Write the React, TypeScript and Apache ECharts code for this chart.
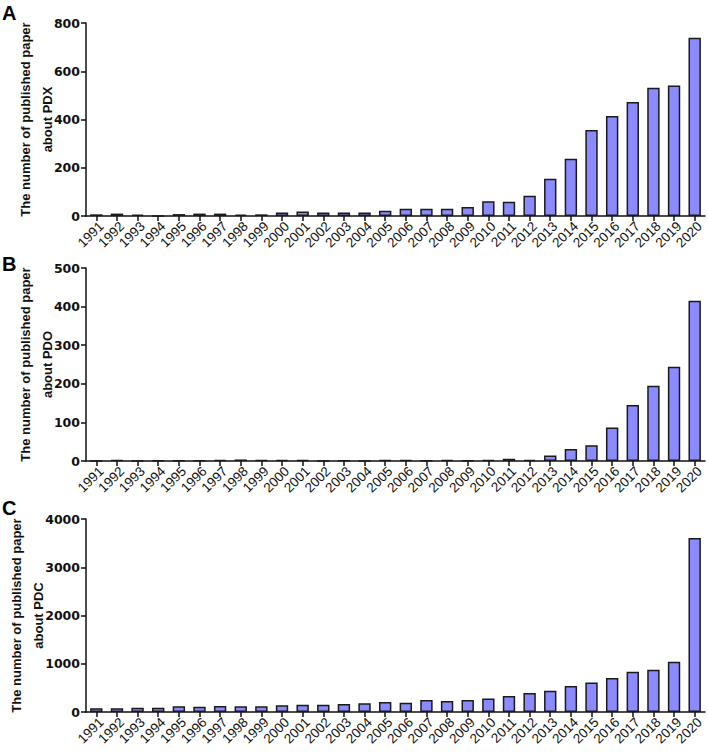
import React, { useEffect, useRef } from "react";
import * as echarts from "echarts";

const years = [
  "1991", "1992", "1993", "1994", "1995", "1996", "1997", "1998", "1999", "2000",
  "2001", "2002", "2003", "2004", "2005", "2006", "2007", "2008", "2009", "2010",
  "2011", "2012", "2013", "2014", "2015", "2016", "2017", "2018", "2019", "2020",
];

const pdxCounts = [7, 10, 6, 0, 8, 10, 10, 6, 7, 15, 19, 15, 15, 15, 22, 30, 30, 30, 37, 61, 59, 84, 154, 237, 356, 415, 473, 532, 541, 739];
const pdoCounts = [0, 2, 0, 1, 1, 1, 3, 4, 2, 3, 2, 0, 1, 0, 2, 2, 1, 3, 1, 2, 6, 3, 14, 31, 41, 87, 145, 195, 244, 415];
const pdcCounts = [76, 76, 90, 90, 117, 110, 124, 117, 117, 138, 152, 152, 166, 179, 207, 193, 248, 228, 248, 282, 331, 393, 441, 538, 613, 703, 834, 876, 1041, 3607];

const panelLetters = ["A", "B", "C"];
const yNames = [
  "The number of published paper\nabout PDX",
  "The number of published paper\nabout PDO",
  "The number of published paper\nabout PDC",
];
const yMax = [800, 500, 4000];
const yInterval = [200, 100, 1000];

const panelTops = [23, 268, 519];
const panelHeight = 193;
const letterTops = [3, 254, 498];
const nameX = [36, 36, 27];

const SANS = "'Liberation Sans', Arial, Helvetica, sans-serif";
const TICKFONT = "'DejaVu Sans', 'Liberation Sans', sans-serif";

export default function App() {
  const ref = useRef<HTMLDivElement>(null);

  useEffect(() => {
    document.body.style.margin = "0";
    const chart = echarts.init(ref.current!, null, { renderer: "svg" });
    const seriesData = [pdxCounts, pdoCounts, pdcCounts];

    const grids = panelTops.map((t) => ({
      left: 86,
      right: 3,
      top: t,
      height: panelHeight,
      containLabel: false,
    }));

    const xAxes = panelTops.map((_, i) => ({
      type: "category",
      gridIndex: i,
      data: years,
      boundaryGap: true,
      axisLine: { show: true, lineStyle: { color: "#111", width: 1.5 } },
      axisTick: { show: true, alignWithLabel: true, length: 5, lineStyle: { color: "#111", width: 1.5 } },
      axisLabel: {
        interval: 0,
        rotate: 45,
        margin: 3,
        verticalAlign: "top",
        color: "#111",
        fontFamily: SANS,
        fontSize: 13.5,
      },
      splitLine: { show: false },
    }));

    const yAxes = panelTops.map((_, i) => ({
      type: "value",
      gridIndex: i,
      min: 0,
      max: yMax[i],
      interval: yInterval[i],
      axisLine: { show: true, lineStyle: { color: "#111", width: 1.5 } },
      axisTick: { show: true, length: 5, lineStyle: { color: "#111", width: 1.5 } },
      axisLabel: {
        margin: 6,
        color: "#111",
        fontFamily: TICKFONT,
        fontWeight: "bold",
        fontSize: 12.5,
        formatter: (v: number) => String(v),
      },
      splitLine: { show: false },
    }));

    const series = seriesData.map((d, i) => ({
      type: "bar",
      xAxisIndex: i,
      yAxisIndex: i,
      data: d,
      barWidth: "60%",
      itemStyle: { color: "#8b8bff", borderColor: "#1a1a1a", borderWidth: 1.5 },
    }));

    const graphics: any[] = [];
    panelLetters.forEach((l, i) => {
      graphics.push({
        type: "text",
        left: 2,
        top: letterTops[i],
        style: { text: l, font: `bold 20px ${SANS}`, fill: "#000" },
      });
      graphics.push({
        type: "text",
        x: nameX[i],
        y: panelTops[i] + panelHeight / 2,
        rotation: Math.PI / 2,
        style: {
          text: yNames[i],
          font: `bold 13px ${SANS}`,
          fill: "#111",
          align: "center",
          verticalAlign: "middle",
          lineHeight: 22,
        },
      });
    });

    chart.setOption({
      animation: false,
      backgroundColor: "#fff",
      grid: grids,
      xAxis: xAxes,
      yAxis: yAxes,
      series,
      graphic: graphics,
    });

    return () => chart.dispose();
  }, []);

  return <div ref={ref} style={{ width: 708, height: 752 }} />;
}
